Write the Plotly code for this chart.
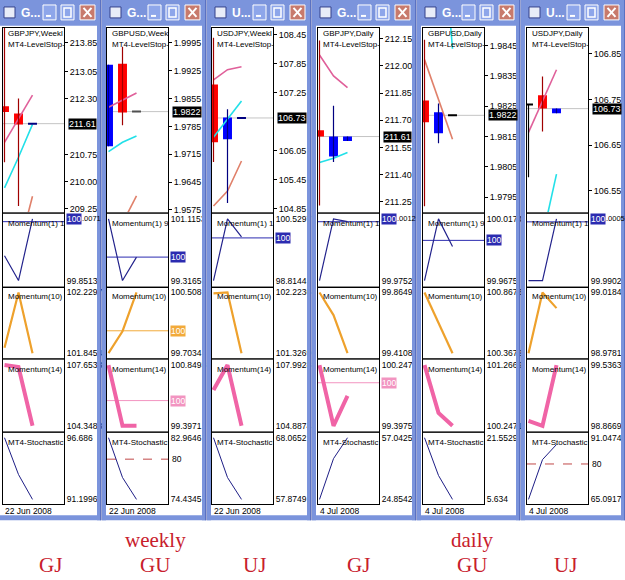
import plotly.graph_objects as go

# ---------------- data ----------------
SYMBOL_TEXT = ["GBPJPY,Weekl", "GBPUSD,Week", "USDJPY,Weekl", "GBPJPY,Daily", "GBPUSD,Daily", "USDJPY,Daily"]
WINDOW_TITLES = ["G...", "G...", "U...", "G...", "G...", "U..."]
DATES = ["22 Jun 2008", "22 Jun 2008", "22 Jun 2008", "4 Jul 2008", "4 Jul 2008", "4 Jul 2008"]
MOM1_TITLES = ["Momentum(1) 1", "Momentum(1) 9", "Momentum(1) 1", "Momentum(1) 1", "Momentum(1) 9", "Momentum(1) 1"]

OPEN = [[212.09, 211.89, 211.61], [1.9735, 1.99425, 1.9822], [107.42, 106.29, 106.73],
        [211.645, 211.50, 211.585], [1.98269, 1.98161, 1.9822], [106.739, 106.759, 106.720]]
CLOSE = [[211.93, 211.59, 211.61], [1.9940, 1.9820, 1.9822], [106.23, 106.74, 106.73],
         [211.61, 211.61, 211.61], [1.98197, 1.98230, 1.9822], [106.739, 106.730, 106.730]]
HIGH = [[214.40, 212.31, 211.61], [1.9940, 1.9985, 1.9822], [108.39, 106.91, 106.73],
        [212.14, 211.78, 211.61], [1.98470, 1.98259, 1.9822], [106.739, 106.80, 106.730]]
LOW = [[210.54, 209.33, 211.61], [1.9735, 1.97875, 1.9822], [105.82, 104.97, 106.73],
       [211.23, 211.47, 211.585], [1.97920, 1.98128, 1.9822], [106.58, 106.68, 106.720]]
DOJI_COLOR = ["#000080", "#505050", "#000080", "#000080", "#000000", "#000000"]

PINK = [[211.09, 211.76, 212.40], [1.9833, 1.9851, 1.9869], [107.52, 107.73, 107.79],
        [212.06, 211.945, 211.88], [None, None, None], [106.678, 106.746, 106.815]]
CYAN = [[209.83, 210.68, 211.59], [1.97213, 1.97450, 1.97608], [106.33, 106.71, 107.08],
        [211.467, 211.49, 211.522], [None, 1.9900, 1.98440], [None, 106.449, 106.587]]
SALMON = [[None, 208.10, 209.60], [None, 1.9542, 1.9610], [104.91, 105.22, 105.84],
          [None, None, None], [1.98404, 1.98272, 1.98141], [None, None, None]]

PRICE_RANGE = [(209.167, 214.263), (1.95700, 2.00325), (104.787, 108.594),
               (211.194, 212.210), (1.97901, 1.98509), (106.5043, 106.9065)]
PRICE_TICKS = [[213.85, 213.05, 212.30, 210.75, 210.00, 209.25],
               [1.9995, 1.9925, 1.9855, 1.9785, 1.9715, 1.9645, 1.9575],
               [108.45, 107.85, 107.25, 106.05, 105.45, 104.85],
               [212.15, 212.00, 211.85, 211.70, 211.55, 211.40, 211.25],
               [1.9845, 1.9835, 1.9825, 1.9815, 1.9805, 1.9795],
               [106.85, 106.75, 106.65, 106.55]]
LAST_PRICE = [211.61, 1.9822, 106.73, 211.61, 1.9822, 106.73]
DIGITS = [2, 4, 2, 2, 4, 2]

MOM1 = [[99.914, 99.8513, 100.0071], [101.1153, 99.3165, 100.0], [98.8144, 100.5297, 100.03],
        [99.9752, 100.0012, 100.0], [99.9675, 100.0174, 99.995], [99.9902, 99.9902, 100.0005]]
MOM10 = [[101.88, 102.2297, 101.8454], [99.7034, 99.994, 100.508], [102.21, 102.2236, 101.3269],
         [99.8649, 99.696, 99.4108], [100.8673, 100.617, 100.3672], [98.9781, 99.0184, 99.008]]
MOM14 = [[107.6533, 107.55, 104.3488], [100.8493, 99.3971, 99.3971], [106.72, 107.9928, 104.8874],
         [100.247, 99.3975, 99.815], [101.2669, 100.464, 100.2471], [98.922, 98.8669, 99.5363]]
STOCH = [[96.686, 93.41, 91.1996], [82.9646, 77.46, 74.4345], [68.0652, 61.49, 57.8749],
         [24.8542, 46.13, 57.0425], [21.5529, 11.8, 5.634], [65.0917, 81.84, 88.2]]

MOM1_RANGE = [(99.8513, 100.0071), (99.3165, 101.1153), (98.8144, 100.5297),
              (99.9752, 100.0012), (99.9675, 100.0174), (99.9902, 100.0005)]
MOM10_RANGE = [(101.8454, 102.2297), (99.7034, 100.508), (101.3269, 102.2236),
               (99.4108, 99.8649), (100.3672, 100.8673), (98.9781, 99.0184)]
MOM14_RANGE = [(104.3488, 107.6533), (99.3971, 100.8493), (104.8874, 107.9928),
               (99.3975, 100.247), (100.2471, 101.2669), (98.8669, 99.5363)]
STOCH_RANGE = [(91.1996, 96.686), (74.4345, 82.9646), (57.8749, 68.0652),
               (24.8542, 57.0425), (5.634, 21.5529), (65.0917, 91.0474)]

BOTTOM_TOP = ["weekly", "daily"]
BOTTOM_PAIRS = ["GJ", "GU", "UJ", "GJ", "GU", "UJ"]

# ---------------- layout constants ----------------
W, H = 625, 580
PLOT_L = [3, 107, 212, 318, 423, 527]
PLOT_W = 61
WIN_L = [-4, 102, 207, 312, 417, 521]
WIN_R = [101, 206, 311, 416, 520, 625]
PANES = [(28, 213), (215, 287), (289, 360), (362, 433), (435, 507)]
XR = [-0.107, 4.25]
FONT = "Liberation Sans"
FRAME = "#7b94dc"


def px(x):
    return x / W


def py(y):
    return 1 - y / H


def fmt_sub(v):
    s = f"{v:.4f}".rstrip("0").rstrip(".")
    return s


fig = go.Figure()
layout = {}
shapes = []
annotations = []

IND = [
    (MOM1, MOM1_RANGE, "#23238c", 1.2, 100, "#2b2bb0", "box"),
    (MOM10, MOM10_RANGE, "#eea12c", 2.2, 100, "#f2aa3a", "box"),
    (MOM14, MOM14_RANGE, "#f064a6", 4.0, 100, "#f294c0", "box"),
    (STOCH, STOCH_RANGE, "#1e1e86", 1.0, 80, "#c04848", "dash"),
]

for w in range(6):
    L = PLOT_L[w]
    R = L + PLOT_W
    for p in range(5):
        k = w * 5 + p + 1
        sfx = "" if k == 1 else str(k)
        xr, yr = "x" + sfx, "y" + sfx
        T, B = PANES[p]
        xa = dict(domain=[px(L), px(R)], range=XR, anchor=yr, showline=True, mirror=True,
                  linecolor="black", linewidth=1, showticklabels=False, ticks="",
                  showgrid=False, zeroline=False, fixedrange=True)
        ya = dict(domain=[py(B), py(T)], anchor=xr, side="right", showline=True, mirror=True,
                  linecolor="black", linewidth=1, showgrid=False, zeroline=False,
                  fixedrange=True, tickfont=dict(family=FONT, size=9, color="black"))
        if p == 0:
            lo, hi = PRICE_RANGE[w]
            d = DIGITS[w]
            ya.update(range=[lo, hi], tickvals=PRICE_TICKS[w],
                      ticktext=[f"{v:.{d}f}" for v in PRICE_TICKS[w]],
                      ticks="outside", ticklen=3, tickcolor="black")
            shapes.append(dict(type="line", xref=xr + " domain", yref=yr, x0=0, x1=1,
                               y0=LAST_PRICE[w], y1=LAST_PRICE[w], layer="below",
                               line=dict(color="#c4c4c4", width=1)))
            for series, col in ((SALMON[w], "#e0806a"), (PINK[w], "#e0609a"), (CYAN[w], "#22e0e8")):
                fig.add_trace(go.Scatter(x=[0, 1, 2], y=series, mode="lines", xaxis=xr, yaxis=yr,
                                         line=dict(color=col, width=1.6), connectgaps=False,
                                         hoverinfo="skip", showlegend=False))
            for i in range(3):
                o, c, hgh, lw = OPEN[w][i], CLOSE[w][i], HIGH[w][i], LOW[w][i]
                if abs(c - o) < 1e-9:
                    col_w = col_b = DOJI_COLOR[w]
                elif c > o:
                    col_w, col_b = "#000080", "#0000ff"
                else:
                    col_w, col_b = "#a00000", "#ff0000"
                if hgh > lw:
                    fig.add_trace(go.Scatter(x=[i, i], y=[lw, hgh], mode="lines", xaxis=xr, yaxis=yr,
                                             line=dict(color=col_w, width=1.2), hoverinfo="skip",
                                             showlegend=False))
                if abs(c - o) < 1e-9:
                    fig.add_trace(go.Scatter(x=[i - 0.32, i + 0.32], y=[c, c], mode="lines",
                                             xaxis=xr, yaxis=yr, line=dict(color=col_b, width=2),
                                             hoverinfo="skip", showlegend=False))
                else:
                    fig.add_trace(go.Bar(x=[i], y=[abs(c - o)], base=[min(o, c)], width=0.64,
                                         xaxis=xr, yaxis=yr, marker=dict(color=col_b, line=dict(width=0)),
                                         hoverinfo="skip", showlegend=False))
            annotations.append(dict(xref="paper", yref=yr, x=px(R + 4), y=LAST_PRICE[w],
                                    xanchor="left", yanchor="middle", showarrow=False,
                                    text=f"{LAST_PRICE[w]:.{DIGITS[w]}f}", bgcolor="black",
                                    borderpad=0, font=dict(family=FONT, size=9, color="white")))
            annotations.append(dict(xref="paper", yref="paper", x=px(L + 3), y=py(34),
                                    xanchor="left", yanchor="middle", showarrow=False,
                                    text=SYMBOL_TEXT[w], font=dict(family=FONT, size=8, color="black")))
            annotations.append(dict(xref="paper", yref="paper", x=px(L + 3), y=py(45),
                                    xanchor="left", yanchor="middle", showarrow=False,
                                    text="MT4-LevelStop-", font=dict(family=FONT, size=8, color="black")))
        else:
            vals, rng, col, lw_, lvl, lcol, lstyle = IND[p - 1]
            lo, hi = rng[w]
            inner = B - T - 10
            pad = (hi - lo) * 5 / inner
            tv, tt = [lo, hi], [fmt_sub(lo), fmt_sub(hi)]
            lvl_in = lo <= lvl <= hi
            near_top = lvl_in and (hi - lvl) / (hi - lo) * inner < 8
            if near_top and lstyle == "box":
                tv, tt = [lo], [fmt_sub(lo)]
            ya.update(range=[lo - pad, hi + pad], tickvals=tv, ticktext=tt, ticks="",
                      tickfont=dict(family=FONT, size=8.5, color="black"))
            if lvl_in:
                if lstyle == "box":
                    shapes.append(dict(type="line", xref=xr + " domain", yref=yr, x0=0, x1=1,
                                       y0=lvl, y1=lvl, layer="below", line=dict(color=lcol, width=1)))
                    ylab = hi if near_top else lvl
                    annotations.append(dict(xref="paper", yref=yr, x=px(R + 2), y=ylab,
                                            xanchor="left", yanchor="middle", showarrow=False,
                                            text=str(lvl), bgcolor=lcol, borderpad=0,
                                            font=dict(family=FONT, size=8.5, color="white")))
                    if near_top:
                        rest = fmt_sub(hi)[len(str(lvl)):]
                        annotations.append(dict(xref="paper", yref=yr, x=px(R + 15.5), y=hi,
                                                xanchor="left", yanchor="middle", showarrow=False,
                                                text=rest, font=dict(family=FONT, size=7.5, color="black")))
                else:
                    shapes.append(dict(type="line", xref=xr + " domain", yref=yr, x0=0, x1=1,
                                       y0=lvl, y1=lvl, layer="below",
                                       line=dict(color=lcol, width=1, dash="dash")))
                    annotations.append(dict(xref="paper", yref=yr, x=px(R + 2), y=lvl,
                                            xanchor="left", yanchor="middle", showarrow=False,
                                            text=str(lvl), font=dict(family=FONT, size=8.5, color="black")))
            fig.add_trace(go.Scatter(x=[0, 1, 2], y=vals[w], mode="lines", xaxis=xr, yaxis=yr,
                                     line=dict(color=col, width=lw_), hoverinfo="skip", showlegend=False))
            title = [MOM1_TITLES[w], "Momentum(10)", "Momentum(14)", "MT4-Stochastic"][p - 1]
            annotations.append(dict(xref="paper", yref="paper", x=px(L + 3), y=py(T + 9.5),
                                    xanchor="left", yanchor="middle", showarrow=False, text=title,
                                    font=dict(family=FONT, size=8, color="black")))
        layout["xaxis" + sfx] = xa
        layout["yaxis" + sfx] = ya
    for p in range(4):
        yb = (PANES[p][1] + PANES[p + 1][0]) / 2
        shapes.append(dict(type="line", xref="paper", yref="paper", x0=px(L), x1=px(R),
                           y0=py(yb), y1=py(yb), line=dict(color="#909090", width=1)))
    annotations.append(dict(xref="paper", yref="paper", x=px(L), y=py(514), xanchor="left",
                            yanchor="middle", showarrow=False, text=DATES[w],
                            font=dict(family=FONT, size=8.5, color="black")))
    wl, wr = WIN_L[w], WIN_R[w]
    for x0, x1, y0, y1 in ((wl, wr, 0, 26), (wl, wl + 4, 0, 523), (wr - 4, wr, 0, 523), (wl, wr, 518, 523)):
        shapes.append(dict(type="rect", xref="paper", yref="paper", x0=px(x0), x1=px(x1),
                           y0=py(y1), y1=py(y0), fillcolor=FRAME, line=dict(width=0), layer="above"))
    shapes.append(dict(type="line", xref="paper", yref="paper", x0=px(wr), x1=px(wr), y0=py(523), y1=py(0),
                       line=dict(color="#3a4fa8", width=1), layer="above"))
    shapes.append(dict(type="rect", xref="paper", yref="paper", x0=px(wl + 8), x1=px(wl + 19),
                       y0=py(18), y1=py(7), fillcolor="#e8ecf8", line=dict(color="#34408a", width=1),
                       layer="above"))
    annotations.append(dict(xref="paper", yref="paper", x=px(wl + 23), y=py(13), xanchor="left",
                            yanchor="middle", showarrow=False, text="<b>" + WINDOW_TITLES[w] + "</b>",
                            font=dict(family=FONT, size=12, color="white")))
    for bi, (b0, b1) in enumerate(((wr - 58, wr - 45), (wr - 40, wr - 27), (wr - 21, wr - 6))):
        fill = "#c87a6c" if bi == 2 else "#8ea6ea"
        shapes.append(dict(type="rect", xref="paper", yref="paper", x0=px(b0), x1=px(b1),
                           y0=py(20), y1=py(5), fillcolor=fill, line=dict(color="white", width=1),
                           layer="above"))
        cx = (b0 + b1) / 2
        if bi == 0:
            shapes.append(dict(type="line", xref="paper", yref="paper", x0=px(b0 + 3), x1=px(b0 + 8),
                               y0=py(16), y1=py(16), line=dict(color="white", width=2), layer="above"))
        elif bi == 1:
            shapes.append(dict(type="rect", xref="paper", yref="paper", x0=px(b0 + 3), x1=px(b1 - 3),
                               y0=py(17), y1=py(8), line=dict(color="white", width=1.5), layer="above"))
        else:
            for a, b in ((8, 17), (17, 8)):
                shapes.append(dict(type="line", xref="paper", yref="paper", x0=px(cx - 4), x1=px(cx + 4),
                                   y0=py(a), y1=py(b), line=dict(color="white", width=2), layer="above"))

RED = "#c8202c"
for txt, xc in zip(BOTTOM_TOP, (155, 472)):
    annotations.append(dict(xref="paper", yref="paper", x=px(xc), y=py(543), xanchor="center",
                            yanchor="middle", showarrow=False, text=txt,
                            font=dict(family="Liberation Serif", size=21, color=RED)))
for txt, xc in zip(BOTTOM_PAIRS, (50, 155, 255, 358, 472, 565)):
    annotations.append(dict(xref="paper", yref="paper", x=px(xc), y=py(568), xanchor="center",
                            yanchor="middle", showarrow=False, text=txt,
                            font=dict(family="Liberation Serif", size=21, color=RED)))

fig.update_layout(width=W, height=H, margin=dict(l=0, r=0, t=0, b=0), paper_bgcolor="white",
                  plot_bgcolor="white", showlegend=False, shapes=shapes, annotations=annotations,
                  barmode="overlay", hovermode=False, **layout)
fig.write_html("out.html")
